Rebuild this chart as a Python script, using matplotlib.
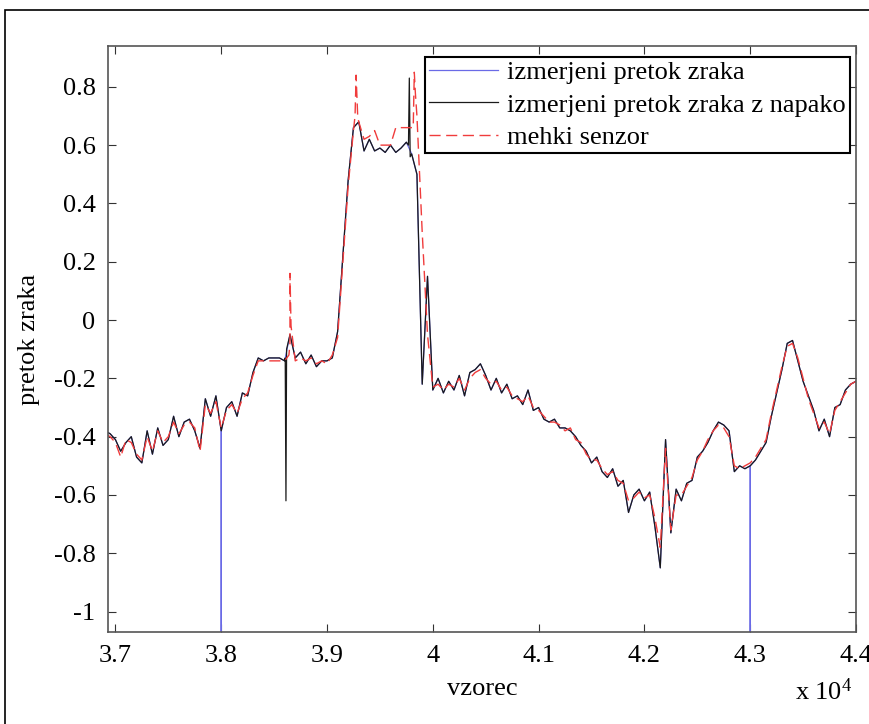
import numpy as np
import matplotlib
matplotlib.use('Agg')
import matplotlib.pyplot as plt
from matplotlib.patches import Rectangle
from matplotlib.ticker import FixedLocator, FuncFormatter

plt.rcParams['font.family'] = ['Liberation Serif', 'DejaVu Serif']
plt.rcParams['mathtext.default'] = 'regular'
plt.rcParams['axes.unicode_minus'] = False

# vzorci (korak 50)
vzorec = list(range(36900, 44001, 50))

# izmerjeni pretok zraka (odčitano s slike)
pretok = [
    -0.38, -0.39, -0.41, -0.45, -0.42, -0.40, -0.47, -0.49, -0.38, -0.46,   # 36900-37350
    -0.37, -0.43, -0.41, -0.33, -0.40, -0.35, -0.34, -0.38, -0.44, -0.27,   # 37400-37850
    -0.33, -0.26, -0.38, -0.30, -0.28, -0.33, -0.25, -0.26, -0.18, -0.13,   # 37900-38350
    -0.14, -0.13, -0.13, -0.13, -0.14, -0.05, -0.13, -0.11, -0.15, -0.12,   # 38400-38850
    -0.16, -0.14, -0.14, -0.13, -0.04, 0.22, 0.48, 0.66, 0.68, 0.58,        # 38900-39350
    0.62, 0.58, 0.59, 0.575, 0.60, 0.575, 0.59, 0.61, 0.57, 0.50,           # 39400-39850
    -0.22, 0.15, -0.24, -0.20, -0.25, -0.21, -0.24, -0.19, -0.26, -0.18,    # 39900-40350
    -0.17, -0.15, -0.19, -0.24, -0.20, -0.25, -0.22, -0.27, -0.26, -0.29,   # 40400-40850
    -0.24, -0.31, -0.30, -0.34, -0.35, -0.34, -0.37, -0.37, -0.38, -0.40,   # 40900-41350
    -0.43, -0.45, -0.49, -0.47, -0.52, -0.54, -0.51, -0.57, -0.55, -0.66,   # 41400-41850
    -0.60, -0.58, -0.62, -0.59, -0.71, -0.85, -0.41, -0.73, -0.58, -0.62,   # 41900-42350
    -0.56, -0.55, -0.47, -0.45, -0.42, -0.38, -0.35, -0.36, -0.38, -0.52,   # 42400-42850
    -0.50, -0.51, -0.50, -0.48, -0.45, -0.42, -0.33, -0.25, -0.17, -0.08,   # 42900-43350
    -0.07, -0.14, -0.21, -0.26, -0.31, -0.38, -0.34, -0.40, -0.30, -0.29,   # 43400-43850
    -0.24, -0.22, -0.21,                                                    # 43900-44000
]

# izpadi modre krivulje (navpični črti pri 38000 in 43000)
izpad_x = [38000, 38001, 43000, 43001]
izpad_y = [-1.3, -0.38, -1.3, -0.50]

# napake v izmerjenem pretoku
napaka_x = [38605, 38612, 38618, 39770, 39778, 39786]
napaka_y = [-0.13, -0.62, -0.10, 0.60, 0.83, 0.56]

# mehki senzor
senzor = [
    -0.39, -0.40, -0.42, -0.47, -0.41, -0.42, -0.46, -0.48, -0.40, -0.45,
    -0.38, -0.42, -0.40, -0.35, -0.39, -0.36, -0.35, -0.37, -0.45, -0.29,
    -0.32, -0.28, -0.37, -0.31, -0.29, -0.32, -0.27, -0.25, -0.19, -0.14,
    -0.14, -0.14, -0.14, -0.14, -0.14, -0.08, -0.14, -0.13, -0.14, -0.13,
    -0.15, -0.14, -0.15, -0.12, -0.06, 0.20, 0.46, 0.65, 0.68, 0.62,
    0.63, 0.65, 0.60, 0.60, 0.60, 0.66, 0.66, 0.66, 0.66, 0.70,
    0.30, -0.05, -0.23, -0.22, -0.24, -0.22, -0.23, -0.20, -0.24, -0.20,
    -0.18, -0.17, -0.20, -0.22, -0.21, -0.24, -0.23, -0.26, -0.27, -0.28,
    -0.26, -0.30, -0.31, -0.33, -0.35, -0.35, -0.36, -0.38, -0.37, -0.41,
    -0.42, -0.46, -0.48, -0.48, -0.51, -0.53, -0.52, -0.55, -0.56, -0.62,
    -0.61, -0.59, -0.61, -0.60, -0.68, -0.78, -0.44, -0.72, -0.60, -0.60,
    -0.57, -0.54, -0.48, -0.45, -0.41, -0.38, -0.36, -0.37, -0.40, -0.50,
    -0.51, -0.50, -0.49, -0.47, -0.44, -0.41, -0.32, -0.24, -0.16, -0.09,
    -0.08, -0.13, -0.20, -0.27, -0.32, -0.37, -0.35, -0.39, -0.31, -0.28,
    -0.25, -0.22, -0.21,
]
senzor_ex_x = [38640, 38650, 38660, 39265, 39275, 39290, 39815, 39825, 39835]
senzor_ex_y = [-0.12, 0.16, -0.02, 0.70, 0.84, 0.70, 0.66, 0.85, 0.78]


def merge(x, y, ex, ey):
    xx = np.concatenate([np.asarray(x, float), np.asarray(ex, float)])
    yy = np.concatenate([np.asarray(y, float), np.asarray(ey, float)])
    idx = np.argsort(xx, kind='stable')
    return xx[idx], yy[idx]


def oznaka(v, p):
    return '%g' % (round(v, 1) + 0.0)


x_modra, y_modra = merge(vzorec, pretok, izpad_x, izpad_y)
x_crna, y_crna = merge(vzorec, pretok, napaka_x, napaka_y)
x_rdeca, y_rdeca = merge(vzorec, senzor, senzor_ex_x, senzor_ex_y)

fig = plt.figure(figsize=(8.69, 7.24), dpi=100)
ax = fig.add_axes([108 / 869, 1 - 632 / 724, (856 - 108) / 869, (632 - 46) / 724])

ax.plot(x_modra, y_modra, color='#6a6ae6', lw=0.9, label='izmerjeni pretok zraka')
ax.plot(x_crna, y_crna, color='#1a1a1a', lw=0.9, label='izmerjeni pretok zraka z napako')
ax.plot(x_rdeca, y_rdeca, color='#f03c3c', lw=1.0, dashes=(8, 4), label='mehki senzor')

ax.set_xlim(36930, 44000)
ax.set_ylim(-1.07, 0.94)
ax.xaxis.set_major_locator(FixedLocator(np.arange(37000, 44001, 1000)))
ax.xaxis.set_major_formatter(FuncFormatter(lambda v, p: '%g' % (v / 1e4)))
ax.yaxis.set_major_locator(FixedLocator(np.round(np.arange(-1, 0.81, 0.2), 1)))
ax.yaxis.set_major_formatter(FuncFormatter(oznaka))
ax.tick_params(direction='in', length=6, width=0.8, colors='#333333',
               labelcolor='black', labelsize=19, top=True, right=True)
ax.tick_params(axis='x', pad=9)
ax.tick_params(axis='y', pad=9)
for s in ax.spines.values():
    s.set_color('#555555')
    s.set_linewidth(1.2)

ax.set_xlabel('vzorec', fontsize=19, labelpad=8)
ax.set_ylabel('pretok zraka', fontsize=19, labelpad=10)
fig.text(852 / 869, 1 - 700 / 724, r'x 10$^{4}$', fontsize=19, ha='right', va='baseline')

leg = ax.legend(loc='upper right', bbox_to_anchor=(1 - 6 / 748, 1 - 11 / 586),
                fontsize=19, frameon=True, fancybox=False, framealpha=1,
                borderpad=0.15, labelspacing=0.33, handlelength=2.6,
                handletextpad=0.35, borderaxespad=0)
leg.get_frame().set_edgecolor('black')
leg.get_frame().set_linewidth(1.5)

# okvir okoli slike
fig.patches.append(Rectangle((5 / 869, -0.05), 1.0, 1.05 - 10 / 724,
                             transform=fig.transFigure, fill=False,
                             edgecolor='black', lw=1.2))

fig.savefig('out.png', dpi=100)
